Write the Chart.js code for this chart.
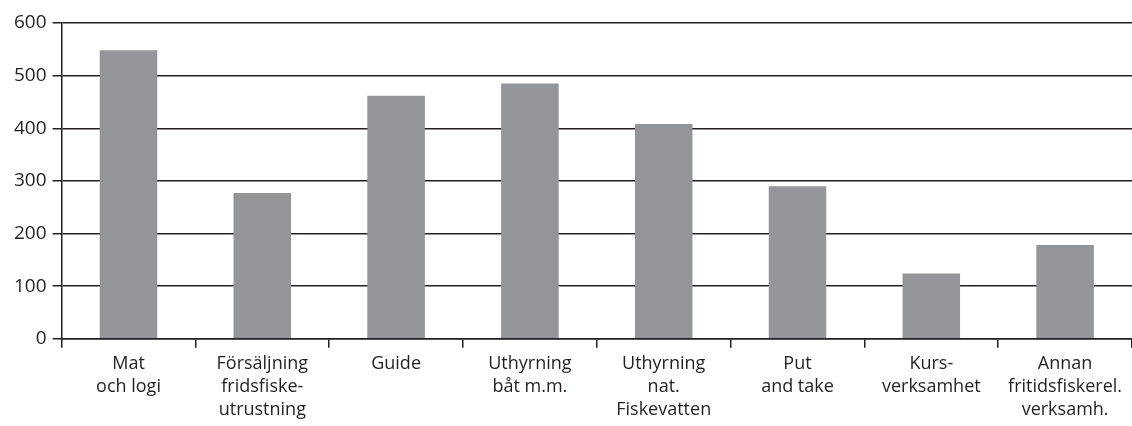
<!DOCTYPE html>
<html>
<head>
<meta charset="utf-8">
<script src="https://cdn.jsdelivr.net/npm/chart.js@4"></script>
<style>
  html, body { margin: 0; padding: 0; background: #fff; }
  #wrap { width: 1132px; height: 426px; }
</style>
</head>
<body>
<div id="wrap"><canvas id="myChart"></canvas></div>
<script>
const categories = [
  ['Mat', 'och logi'],
  ['Försäljning', 'fridsfiske-', 'utrustning'],
  ['Guide'],
  ['Uthyrning', 'båt m.m.'],
  ['Uthyrning', 'nat.', 'Fiskevatten'],
  ['Put', 'and take'],
  ['Kurs-', 'verksamhet'],
  ['Annan', 'fritidsfiskerel.', 'verksamh.']
];
const values = [548, 277, 462, 485, 408, 290, 124, 178];
const yTicks = [0, 100, 200, 300, 400, 500, 600];

document.addEventListener('DOMContentLoaded', function() {
  const ctx = document.getElementById('myChart').getContext('2d');
  new Chart(ctx, {
    type: 'bar',
    data: {
      labels: categories,
      datasets: [{
        data: values,
        backgroundColor: '#939598',
        barPercentage: 0.43,
        categoryPercentage: 1
      }]
    },
    options: {
      responsive: true,
      maintainAspectRatio: false,
      animation: false,
      layout: { padding: { top: 23, right: 0, left: 8, bottom: 0 } },
      plugins: { legend: { display: false }, tooltip: { enabled: false } },
      scales: {
        x: {
          grid: { drawOnChartArea: false, offset: true, color: '#231f20', lineWidth: 1.5, tickLength: 9 },
          border: { color: '#231f20', width: 1.5 },
          ticks: {
            color: '#231f20',
            font: { family: 'Open Sans', size: 18, lineHeight: 1.3 },
            maxRotation: 0,
            autoSkip: false,
            padding: 4
          }
        },
        y: {
          min: 0,
          max: 600,
          afterBuildTicks: function(axis) { axis.ticks = yTicks.map(v => ({ value: v })); },
          grid: { color: '#231f20', lineWidth: 1.5, tickLength: 9 },
          border: { color: '#231f20', width: 1.5 },
          ticks: {
            color: '#231f20',
            font: { family: 'Open Sans', size: 19 },
            padding: 6
          }
        }
      }
    }
  });
});
</script>
</body>
</html>
